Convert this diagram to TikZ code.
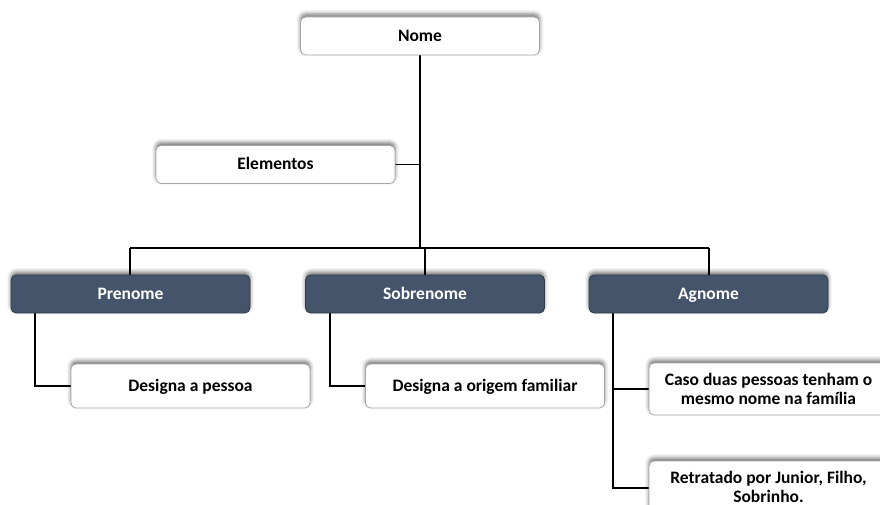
\documentclass[tikz,border=0pt]{standalone}
\usepackage{fontspec}
\setmainfont{Carlito}
\usetikzlibrary{shadows.blur}
\definecolor{slate}{HTML}{44546A}
\tikzset{
  every node/.style={font=\fontsize{17.5}{19}\selectfont\bfseries},
  card/.style={draw=gray!70, line width=0.8pt, fill=white, rounded corners=5pt,
    minimum width=239pt, minimum height=38pt, inner sep=2pt, align=center,
    blur shadow={shadow xshift=0pt, shadow yshift=3pt, shadow blur radius=4pt, shadow opacity=55}},
  oneline/.style={card, text height=13pt, text depth=2pt},
  tallcard/.style={card, minimum height=52pt},
  head/.style={oneline, draw=slate!70!black, fill=slate, text=white},
  link/.style={draw=black, line width=1.8pt}
}
\begin{document}
\begin{tikzpicture}[x=1pt, y=-1pt]
  \useasboundingbox (0,0) rectangle (880,505);
  \clip (0,0) rectangle (880,505);

  % connector junction points
  \coordinate (bus) at (420,248);
  \coordinate (busL) at (130,248);
  \coordinate (busR) at (709,248);
  \coordinate (pl) at (35,300);
  \coordinate (sl) at (330,300);
  \coordinate (al) at (613,300);

  % trunk and branches (drawn first, boxes sit on top)
  \draw[link] (420,40) -- (bus);
  \draw[link] (busL) -- (busR);
  \draw[link] (busL) -- (130,290);
  \draw[link] (425,248) -- (425,290);
  \draw[link] (busR) -- (709,290);
  \draw[link] (380,164.5) -- (420,164.5);
  \draw[link] (pl) |- (100,386);
  \draw[link] (sl) |- (400,386);
  \draw[link] (al) |- (680,488);
  \draw[link] (613,389) -- (680,389);

  % hierarchy boxes
  \node[oneline] (nome) at (420,36) {Nome};
  \node[oneline] (elem) at (275.5,164.5) {Elementos};
  \node[head] (pre) at (130.5,294) {Prenome};
  \node[head] (sob) at (425,294) {Sobrenome};
  \node[head] (agn) at (708.5,294) {Agnome};
  \node[oneline, minimum height=44pt] (dpe) at (190.5,386) {Designa a pessoa};
  \node[oneline, minimum height=44pt] (dor) at (485,386) {Designa a origem familiar};
  \node[tallcard] (caso) at (768.5,389) {Caso duas pessoas tenham o\\mesmo nome na família};
  \node[tallcard] (ret) at (768.5,487) {Retratado por Junior, Filho,\\Sobrinho.};
\end{tikzpicture}
\end{document}
